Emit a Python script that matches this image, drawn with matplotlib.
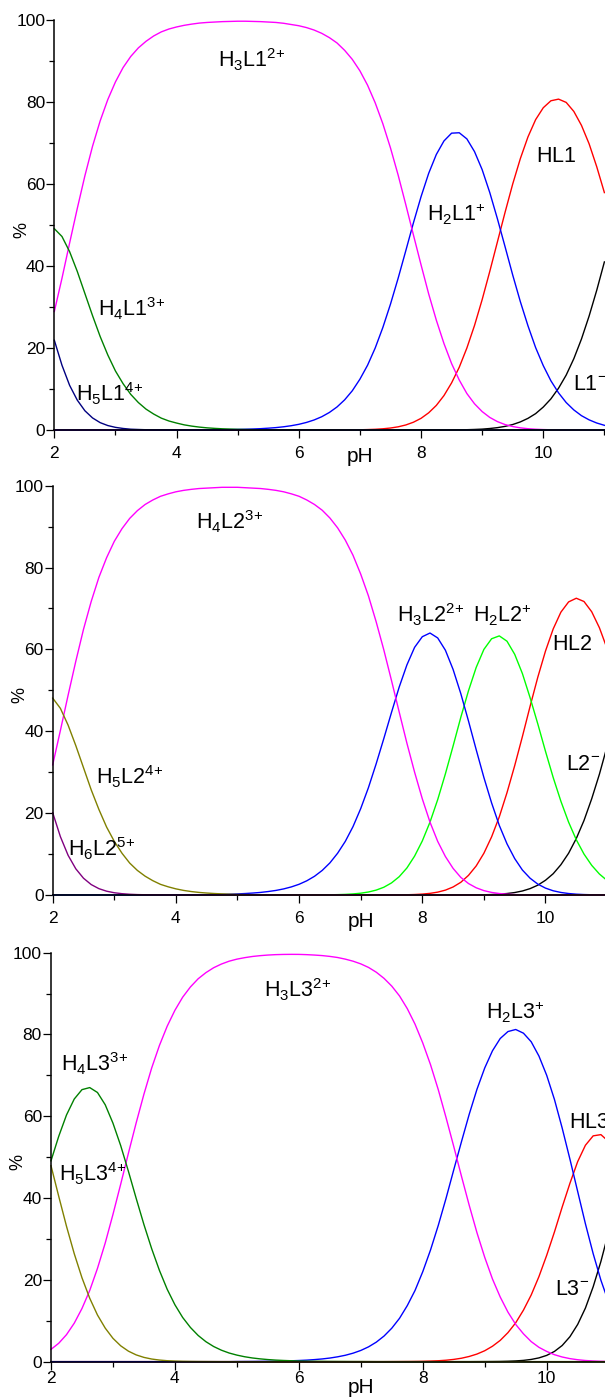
import matplotlib
matplotlib.use('Agg')
import matplotlib.pyplot as plt
from matplotlib.ticker import MultipleLocator
from matplotlib.transforms import blended_transform_factory

# fonts: Arial-like text, mathtext in the same face for sub/superscripts
plt.rcParams['font.family'] = ['Liberation Sans', 'DejaVu Sans']
plt.rcParams['mathtext.fontset'] = 'custom'
plt.rcParams['mathtext.rm'] = 'Liberation Sans'
plt.rcParams['mathtext.it'] = 'Liberation Sans:italic'
plt.rcParams['mathtext.bf'] = 'Liberation Sans:bold'

# pH grid the curves were read at
ph = [2.000, 2.125, 2.250, 2.375, 2.500, 2.625, 2.750, 2.875, 3.000, 3.125,
      3.250, 3.375, 3.500, 3.625, 3.750, 3.875, 4.000, 4.125, 4.250, 4.375,
      4.500, 4.625, 4.750, 4.875, 5.000, 5.125, 5.250, 5.375, 5.500, 5.625,
      5.750, 5.875, 6.000, 6.125, 6.250, 6.375, 6.500, 6.625, 6.750, 6.875,
      7.000, 7.125, 7.250, 7.375, 7.500, 7.625, 7.750, 7.875, 8.000, 8.125,
      8.250, 8.375, 8.500, 8.625, 8.750, 8.875, 9.000, 9.125, 9.250, 9.375,
      9.500, 9.625, 9.750, 9.875, 10.000, 10.125, 10.250, 10.375, 10.500,
      10.625, 10.750, 10.875, 11.000]

# ---- ligand L1 (%) ----
l1_h5 = [21.9, 15.8, 10.9, 7.3, 4.7, 2.95, 1.8, 1.09, 0.65, 0.38,
         0.2, 0.13, 0.07, 0.04, 0.02, 0.01,
         0, 0, 0, 0, 0, 0, 0, 0, 0, 0,
         0, 0, 0, 0, 0, 0, 0, 0, 0, 0,
         0, 0, 0, 0, 0, 0, 0, 0, 0, 0,
         0, 0, 0, 0, 0, 0, 0, 0, 0, 0,
         0, 0, 0, 0, 0, 0, 0, 0, 0, 0,
         0, 0, 0, 0, 0, 0, 0]
l1_h4 = [49.1, 47.2, 43.5, 38.7, 33.3, 27.9, 22.8, 18.3, 14.4, 11.3,
         8.7, 6.7, 5.1, 3.9, 2.9, 2.2, 1.7, 1.26, 0.95, 0.71,
         0.53, 0.40, 0.30, 0.23, 0.17, 0.13, 0.10, 0.07, 0.05, 0.04,
         0.03, 0.02, 0.02, 0.01, 0.01,
         0, 0, 0, 0, 0, 0, 0, 0, 0, 0,
         0, 0, 0, 0, 0, 0, 0, 0, 0, 0,
         0, 0, 0, 0, 0, 0, 0, 0, 0, 0,
         0, 0, 0, 0, 0, 0, 0, 0]
l1_h3 = [28.9, 37.0, 45.6, 54.0, 62.0, 69.2, 75.4, 80.6, 84.9, 88.4,
         91.1, 93.2, 94.8, 96.1, 97.1, 97.8, 98.3, 98.7, 99.0, 99.25,
         99.4, 99.5, 99.6, 99.65, 99.7, 99.7, 99.65, 99.6, 99.5, 99.4,
         99.2, 98.9, 98.6, 98.15, 97.55, 96.75, 95.7, 94.4, 92.6, 90.4,
         87.6, 84.1, 79.8, 74.7, 68.8, 62.2, 55.0, 47.6, 40.3, 33.2,
         26.8, 21.1, 16.2, 12.2, 8.9, 6.4, 4.5, 3.07, 2.05, 1.33,
         0.85, 0.53, 0.32, 0.19, 0.11, 0.06, 0.04, 0.02, 0.01,
         0, 0, 0, 0]
l1_h2 = [0, 0, 0, 0, 0, 0, 0, 0, 0, 0,
         0, 0, 0, 0, 0, 0, 0, 0, 0,
         0.03, 0.04, 0.06, 0.08, 0.11, 0.14, 0.19, 0.25, 0.33, 0.45,
         0.59, 0.79, 1.05, 1.39, 1.85, 2.45, 3.24, 4.28, 5.62, 7.36,
         9.57, 12.4, 15.8, 20.0, 25.0, 30.7, 37.0, 43.7, 50.5, 56.9,
         62.6, 67.2, 70.5, 72.4, 72.5, 71.0, 67.9, 63.5, 57.9, 51.5,
         44.7, 37.8, 31.3, 25.4, 20.1, 15.7, 12.0, 9.06, 6.7, 4.9,
         3.5, 2.48, 1.71, 1.15]
l1_h1 = [0, 0, 0, 0, 0, 0, 0, 0, 0, 0,
         0, 0, 0, 0, 0, 0, 0, 0, 0, 0,
         0, 0, 0, 0, 0, 0, 0, 0, 0, 0,
         0, 0, 0, 0, 0, 0, 0,
         0.01, 0.02, 0.04, 0.06, 0.11, 0.18, 0.30, 0.49, 0.78, 1.23,
         1.9, 2.85, 4.2, 6.0, 8.4, 11.5, 15.3, 20.0, 25.5, 31.8,
         38.7, 45.9, 53.1, 60.0, 66.2, 71.5, 75.7, 78.6, 80.3, 80.7,
         79.9, 77.7, 74.3, 69.8, 64.2, 57.9]
l1_h0 = [0, 0, 0, 0, 0, 0, 0, 0, 0, 0,
         0, 0, 0, 0, 0, 0, 0, 0, 0, 0,
         0, 0, 0, 0, 0, 0, 0, 0, 0, 0,
         0, 0, 0, 0, 0, 0, 0, 0, 0, 0,
         0, 0, 0, 0, 0, 0, 0, 0, 0, 0,
         0,
         0.01, 0.03, 0.05, 0.08, 0.14, 0.22, 0.37, 0.58, 0.89, 1.34,
         1.98, 2.85, 4.0, 5.6, 7.6, 10.2, 13.4, 17.4, 22.2, 27.8,
         34.1, 41.0]

# ---- ligand L2 (%) ----
l2_h6 = [20.1, 14.25, 9.7, 6.4, 4.1, 2.55, 1.55, 0.93, 0.55, 0.32,
         0.18, 0.1, 0.06, 0.03, 0.02, 0.01,
         0, 0, 0, 0, 0, 0, 0, 0, 0, 0,
         0, 0, 0, 0, 0, 0, 0, 0, 0, 0,
         0, 0, 0, 0, 0, 0, 0, 0, 0, 0,
         0, 0, 0, 0, 0, 0, 0, 0, 0, 0,
         0, 0, 0, 0, 0, 0, 0, 0, 0, 0,
         0, 0, 0, 0, 0, 0, 0]
l2_h5 = [48.1, 45.6, 41.5, 36.5, 31.1, 25.7, 20.9, 16.6, 13.1, 10.2,
         7.8, 6.0, 4.6, 3.5, 2.6, 2.0, 1.5, 1.12, 0.84, 0.63,
         0.48, 0.36, 0.27, 0.20, 0.15, 0.11, 0.085, 0.06, 0.05, 0.04,
         0.03, 0.02, 0.015, 0.01,
         0, 0, 0, 0, 0, 0, 0, 0, 0, 0,
         0, 0, 0, 0, 0, 0, 0, 0, 0, 0,
         0, 0, 0, 0, 0, 0, 0, 0, 0, 0,
         0, 0, 0, 0, 0, 0, 0, 0, 0]
l2_h4 = [31.8, 40.2, 48.8, 57.1, 64.9, 71.7, 77.6, 82.4, 86.4, 89.5,
         92.0, 93.9, 95.4, 96.5, 97.4, 98.0, 98.5, 98.85, 99.1, 99.3,
         99.4, 99.5, 99.6, 99.6, 99.6, 99.5, 99.4, 99.3, 99.1, 98.85,
         98.5, 98.0, 97.4, 96.5, 95.4, 94.0, 92.1, 89.7, 86.7, 83.0,
         78.4, 73.1, 66.8, 59.9, 52.4, 44.7, 37.1, 30.0, 23.5, 17.8,
         13.1, 9.4, 6.5, 4.3, 2.8, 1.76, 1.07, 0.63, 0.36, 0.2,
         0.1, 0.05, 0.03, 0.01,
         0, 0, 0, 0, 0, 0, 0, 0, 0]
l2_h3 = [0, 0, 0, 0, 0, 0, 0, 0, 0, 0,
         0, 0, 0, 0, 0, 0,
         0.03, 0.04, 0.05, 0.06, 0.08, 0.11, 0.15, 0.20, 0.27, 0.36,
         0.48, 0.63, 0.85, 1.12, 1.49, 1.98, 2.62, 3.47, 4.57, 6.0,
         7.84, 10.2, 13.1, 16.7, 21.1, 26.2, 32.0, 38.2, 44.6, 50.8,
         56.2, 60.5, 63.1, 64.0, 62.8, 59.8, 55.1, 49.2, 42.5, 35.5,
         28.7, 22.5, 17.0, 12.5, 8.9, 6.1, 4.1, 2.66, 1.68, 1.03,
         0.62, 0.36, 0.2, 0.11, 0.06, 0.03, 0.02]
l2_h2 = [0, 0, 0, 0, 0, 0, 0, 0, 0, 0,
         0, 0, 0, 0, 0, 0, 0, 0, 0, 0,
         0, 0, 0, 0, 0, 0, 0, 0, 0, 0,
         0, 0,
         0.01, 0.01, 0.02, 0.03, 0.05, 0.09, 0.15, 0.26, 0.44, 0.73,
         1.19, 1.89, 2.95, 4.47, 6.6, 9.5, 13.2, 17.8, 23.3, 29.6,
         36.4, 43.4, 49.9, 55.6, 60.0, 62.6, 63.3, 62.0, 58.8, 54.1,
         48.2, 41.8, 35.1, 28.7, 22.9, 17.8, 13.5, 10.0, 7.25, 5.13,
         3.54]
l2_h1 = [0, 0, 0, 0, 0, 0, 0, 0, 0, 0,
         0, 0, 0, 0, 0, 0, 0, 0, 0, 0,
         0, 0, 0, 0, 0, 0, 0, 0, 0, 0,
         0, 0, 0, 0, 0, 0, 0, 0, 0, 0,
         0, 0, 0,
         0.01, 0.02, 0.03, 0.06, 0.12, 0.22, 0.40, 0.70, 1.19, 1.96,
         3.1, 4.8, 7.1, 10.2, 14.2, 19.1, 25.0, 31.6, 38.7, 46.1,
         53.2, 59.6, 65.0, 69.1, 71.6, 72.5, 71.7, 69.2, 65.3, 60.2]
l2_h0 = [0, 0, 0, 0, 0, 0, 0, 0, 0, 0,
         0, 0, 0, 0, 0, 0, 0, 0, 0, 0,
         0, 0, 0, 0, 0, 0, 0, 0, 0, 0,
         0, 0, 0, 0, 0, 0, 0, 0, 0, 0,
         0, 0, 0, 0, 0, 0, 0, 0, 0, 0,
         0, 0, 0,
         0.01, 0.02, 0.03, 0.06, 0.11, 0.21, 0.36, 0.6, 0.98, 1.56,
         2.4, 3.6, 5.2, 7.4, 10.2, 13.8, 18.2, 23.5, 29.5, 36.3]

# ---- ligand L3 (%) ----
l3_h5 = [47.9, 40.4, 33.1, 26.4, 20.5, 15.5, 11.4, 8.2, 5.7, 3.87,
         2.56, 1.65, 1.04, 0.64, 0.39, 0.23, 0.14, 0.08, 0.05, 0.03,
         0.02, 0.01,
         0, 0, 0, 0, 0, 0, 0, 0, 0, 0,
         0, 0, 0, 0, 0, 0, 0, 0, 0, 0,
         0, 0, 0, 0, 0, 0, 0, 0, 0, 0,
         0, 0, 0, 0, 0, 0, 0, 0, 0, 0,
         0, 0, 0, 0, 0, 0, 0, 0, 0, 0,
         0]
l3_h4 = [49.1, 55.1, 60.3, 64.2, 66.5, 67.0, 65.8, 62.8, 58.3, 52.8,
         46.5, 39.9, 33.5, 27.6, 22.3, 17.7, 13.9, 10.8, 8.36, 6.4,
         4.88, 3.7, 2.80, 2.11, 1.60, 1.20, 0.90, 0.68, 0.51, 0.38,
         0.29, 0.22, 0.16, 0.12, 0.09, 0.07, 0.05, 0.04, 0.03, 0.02,
         0.02, 0.01,
         0, 0, 0, 0, 0, 0, 0, 0, 0, 0,
         0, 0, 0, 0, 0, 0, 0, 0, 0, 0,
         0, 0, 0, 0, 0, 0, 0, 0, 0, 0,
         0]
l3_h3 = [3.0, 4.5, 6.6, 9.4, 13.0, 17.4, 22.8, 29.0, 36.0, 43.4,
         51.0, 58.4, 65.4, 71.8, 77.3, 82.0, 85.9, 89.1, 91.6, 93.6,
         95.1, 96.3, 97.2, 97.9, 98.4, 98.76, 99.05, 99.25, 99.4, 99.5,
         99.55, 99.57, 99.56, 99.5, 99.4, 99.27, 99.07, 98.8, 98.4, 97.9,
         97.24, 96.37, 95.2, 93.7, 91.8, 89.4, 86.3, 82.5, 77.9, 72.6,
         66.5, 59.7, 52.6, 45.3, 38.2, 31.5, 25.5, 20.2, 15.8, 12.1,
         9.1, 6.8, 4.9, 3.5, 2.5, 1.7, 1.14, 0.74, 0.47, 0.28,
         0.17, 0.09, 0.05]
l3_h2 = [0, 0, 0, 0, 0, 0, 0, 0, 0, 0,
         0, 0, 0, 0, 0, 0, 0, 0, 0, 0,
         0, 0, 0, 0,
         0.03, 0.04, 0.05, 0.07, 0.09, 0.12, 0.16, 0.21, 0.28, 0.37,
         0.50, 0.66, 0.88, 1.18, 1.56, 2.07, 2.74, 3.62, 4.77, 6.26,
         8.18, 10.6, 13.7, 17.4, 22.0, 27.3, 33.3, 39.9, 46.9, 53.8,
         60.5, 66.6, 71.8, 76.0, 79.0, 80.7, 81.2, 80.3, 78.2, 74.7,
         70.0, 64.1, 57.1, 49.5, 41.6, 33.7, 26.4, 19.9, 14.5]
l3_h1 = [0, 0, 0, 0, 0, 0, 0, 0, 0, 0,
         0, 0, 0, 0, 0, 0, 0, 0, 0, 0,
         0, 0, 0, 0, 0, 0, 0, 0, 0, 0,
         0, 0, 0, 0, 0, 0, 0, 0, 0, 0,
         0, 0, 0, 0,
         0.01, 0.02, 0.03, 0.05, 0.08, 0.14, 0.22, 0.35, 0.55, 0.84,
         1.27, 1.86, 2.67, 3.77, 5.2, 7.1, 9.5, 12.6, 16.3, 20.8,
         26.0, 31.7, 37.8, 43.6, 48.9, 52.9, 55.2, 55.5, 53.8]
l3_h0 = [0, 0, 0, 0, 0, 0, 0, 0, 0, 0,
         0, 0, 0, 0, 0, 0, 0, 0, 0, 0,
         0, 0, 0, 0, 0, 0, 0, 0, 0, 0,
         0, 0, 0, 0, 0, 0, 0, 0, 0, 0,
         0, 0, 0, 0, 0, 0, 0, 0, 0, 0,
         0, 0, 0, 0, 0,
         0.01, 0.02, 0.03, 0.05, 0.1, 0.18, 0.31, 0.54, 0.92, 1.53,
         2.5, 3.95, 6.1, 9.1, 13.1, 18.3, 24.5, 31.7]

NAVY, GREEN, MAGENTA, BLUE = '#000080', '#008000', '#ff00ff', '#0000ff'
RED, LIME, OLIVE, PURPLE = '#ff0000', '#00ff00', '#808000', '#800080'

# each panel: axes rect (fig fraction), right x limit, curves (drawn in order),
# species labels (text, pH, %), x tick label pad
panels = [
    dict(rect=[0.0898, 0.6924, 0.9102, 0.2933], xmax=11.01, xpad=6.0,
         curves=[(l1_h0, 'black'), (l1_h1, RED), (l1_h2, BLUE),
                 (l1_h3, MAGENTA), (l1_h4, GREEN), (l1_h5, NAVY)],
         labels=[(r'H_3L1^{2{+}}', 4.68, 88.5), (r'H_4L1^{3{+}}', 2.72, 27.6),
                 (r'H_5L1^{4{+}}', 2.355, 6.9), (r'H_2L1^{{+}}', 8.10, 50.8),
                 (r'HL1', 9.88, 65.4), (r'L1^{{-}}', 10.48, 9.8)]),
    dict(rect=[0.0871, 0.3598, 0.9129, 0.2928], xmax=10.966, xpad=6.0,
         curves=[(l2_h0, 'black'), (l2_h1, RED), (l2_h2, LIME),
                 (l2_h3, BLUE), (l2_h4, MAGENTA), (l2_h5, OLIVE),
                 (l2_h6, PURPLE)],
         labels=[(r'H_4L2^{3{+}}', 4.33, 89.2), (r'H_5L2^{4{+}}', 2.71, 26.9),
                 (r'H_6L2^{5{+}}', 2.25, 9.4), (r'H_3L2^{2{+}}', 7.59, 66.5),
                 (r'H_2L2^{{+}}', 8.83, 66.5), (r'HL2', 10.11, 59.9),
                 (r'L2^{{-}}', 10.34, 30.5)]),
    dict(rect=[0.0843, 0.0260, 0.9157, 0.2926], xmax=10.941, xpad=1.0,
         curves=[(l3_h0, 'black'), (l3_h1, RED), (l3_h2, BLUE),
                 (l3_h3, MAGENTA), (l3_h4, GREEN), (l3_h5, OLIVE)],
         labels=[(r'H_4L3^{3{+}}', 2.16, 70.9), (r'H_5L3^{4{+}}', 2.13, 44.0),
                 (r'H_3L3^{2{+}}', 5.43, 89.1), (r'H_2L3^{{+}}', 9.02, 83.7),
                 (r'HL3', 10.36, 57.0), (r'L3^{{-}}', 10.13, 16.3)]),
]

fig = plt.figure(figsize=(6.05, 13.98), dpi=100)

for p in panels:
    ax = fig.add_axes(p['rect'])
    for values, color in p['curves']:
        ax.plot(ph, values, color=color, lw=1.0, clip_on=False)

    ax.set_xlim(2, p['xmax'])
    ax.set_ylim(0, 100)
    ax.xaxis.set_major_locator(MultipleLocator(2))
    ax.xaxis.set_minor_locator(MultipleLocator(1))
    ax.yaxis.set_major_locator(MultipleLocator(20))
    ax.yaxis.set_minor_locator(MultipleLocator(10))
    ax.tick_params(which='major', direction='out', length=5.5, width=0.9,
                   labelsize=12.5, color='black')
    ax.tick_params(which='minor', direction='out', length=3.5, width=0.9)
    ax.tick_params(axis='y', which='major', pad=1)
    ax.tick_params(axis='x', which='major', pad=p['xpad'])
    for side in ('top', 'right'):
        ax.spines[side].set_visible(False)
    for side in ('left', 'bottom'):
        ax.spines[side].set_linewidth(1.1)

    for txt, x, y in p['labels']:
        ax.text(x, y, r'$\mathregular{' + txt + '}$', fontsize=15.5,
                ha='left', va='baseline', color='black')

    # axis titles
    ax.text(-0.059, 0.488, '%', transform=ax.transAxes, rotation=90,
            ha='center', va='center', fontsize=13)
    tr = blended_transform_factory(ax.transData, ax.transAxes)
    ax.text(7.0, -0.0775, 'pH', transform=tr, ha='center', va='baseline',
            fontsize=15)

fig.savefig('out.png', dpi=100)
